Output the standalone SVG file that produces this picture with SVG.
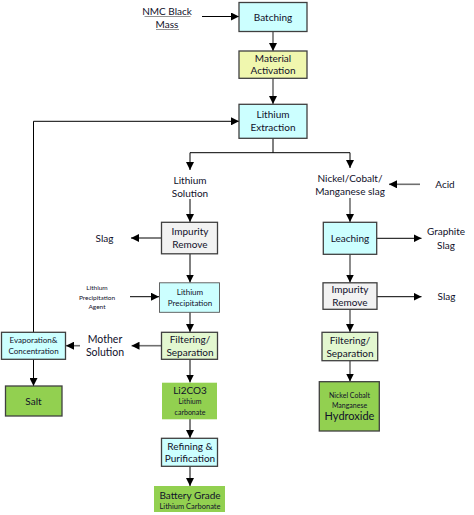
<svg xmlns="http://www.w3.org/2000/svg" width="474" height="515" viewBox="0 0 474 515">
<defs>
<marker id="ah" markerUnits="userSpaceOnUse" markerWidth="8" markerHeight="8" viewBox="0 0 8 8" refX="8" refY="4" orient="auto">
<path d="M0,0 L8,4 L0,8 Z" fill="#000"/>
</marker>
</defs>
<style>
text{font-family:Lato,"Liberation Sans",sans-serif;font-size:10px;fill:#10102a;text-anchor:middle}
.b{stroke:#3f3f3f;stroke-width:1.3}
.cy{fill:#ccffff}.ye{fill:#f0f7ae}.gr{fill:#f2f2f2}.lg{fill:#e3f7d0}.g{fill:#92d050}
.k{fill:none;stroke:#000;stroke-width:1}
.m{fill:none;stroke:#6f6f6f;stroke-width:1.6}
text.s{font-size:8px}text.xs{font-size:6.5px}text.t7{font-size:7px}text.t75{font-size:7.5px}text.t105{font-size:10.5px}text.t11{font-size:11px}
</style>
<rect width="474" height="515" fill="#fff"/>
<g id="connectors">
<line class="k" x1="202" y1="16.5" x2="239" y2="16.5" marker-end="url(#ah)"/>
<line class="m" x1="273" y1="31" x2="273" y2="51" marker-end="url(#ah)"/>
<line class="m" x1="273" y1="78" x2="273" y2="104" marker-end="url(#ah)"/>
<path class="k" d="M273,138 V152.7 H190 V170" stroke-width="1.2" marker-end="url(#ah)"/>
<path class="k" d="M273,152.7 H350 V168" stroke-width="1.2" marker-end="url(#ah)"/>
<line class="k" x1="190" y1="199" x2="190" y2="222" marker-end="url(#ah)"/>
<line class="k" x1="161" y1="238" x2="131" y2="238" marker-end="url(#ah)"/>
<line class="k" x1="190" y1="254" x2="190" y2="282.5" marker-end="url(#ah)"/>
<line class="k" x1="130" y1="296.7" x2="159" y2="296.7" marker-end="url(#ah)"/>
<line class="k" x1="190" y1="312" x2="190" y2="332" marker-end="url(#ah)"/>
<line class="m" x1="161" y1="345.7" x2="131.5" y2="345.7" marker-end="url(#ah)"/>
<line class="m" x1="80" y1="345.7" x2="66" y2="345.7" marker-end="url(#ah)"/>
<line class="k" x1="33.5" y1="359" x2="33.5" y2="386" marker-end="url(#ah)"/>
<path class="k" d="M33.5,332 V121.3 H239" marker-end="url(#ah)"/>
<line class="k" x1="190" y1="359" x2="190" y2="382.5" marker-end="url(#ah)"/>
<line class="k" x1="190" y1="419" x2="190" y2="438" marker-end="url(#ah)"/>
<line class="k" x1="190" y1="466" x2="190" y2="486" marker-end="url(#ah)"/>
<line class="m" x1="350" y1="198" x2="350" y2="222" marker-end="url(#ah)"/>
<line class="m" x1="420" y1="184.3" x2="389" y2="184.3" marker-end="url(#ah)"/>
<line class="k" x1="377" y1="238.3" x2="421.5" y2="238.3" marker-end="url(#ah)"/>
<line class="m" x1="350" y1="254" x2="350" y2="282.5" marker-end="url(#ah)"/>
<line class="k" x1="377" y1="296.7" x2="421.5" y2="296.7" marker-end="url(#ah)"/>
<line class="m" x1="350" y1="309" x2="350" y2="332" marker-end="url(#ah)"/>
<line class="m" x1="350" y1="360.5" x2="350" y2="381.5" marker-end="url(#ah)"/>
</g>
<g id="nmc">
<text x="167" y="14.5">NMC Black</text>
<text x="167" y="27.5">Mass</text>
<line x1="144.5" y1="16.5" x2="190.5" y2="16.5" stroke="#777" stroke-width="0.8"/>
<line x1="156" y1="29.5" x2="179" y2="29.5" stroke="#777" stroke-width="0.8"/>
</g>
<g id="batching"><rect class="b cy" x="239" y="2.5" width="68" height="29"/><text x="273" y="20.5">Batching</text></g>
<g id="activation"><rect class="b ye" x="239" y="51" width="68" height="27.3"/><text x="273" y="61.5">Material</text><text x="273" y="74">Activation</text></g>
<g id="extraction"><rect class="b cy" x="239" y="104.3" width="68" height="34"/><text x="273" y="118">Lithium</text><text x="273" y="131">Extraction</text></g>
<g id="lisolution"><text x="190" y="183.5">Lithium</text><text x="190" y="196.5">Solution</text></g>
<g id="impurity1"><rect class="b gr" x="161.5" y="222.3" width="56" height="31.5"/><text x="190" y="235">Impurity</text><text x="190" y="248">Remove</text></g>
<g id="slag1"><text x="104.5" y="241.5">Slag</text></g>
<g id="agent"><text class="xs" x="97" y="289.5">Lithium</text><text class="xs" x="97" y="299.5">Precipitation</text><text class="xs" x="97" y="309">Agent</text></g>
<g id="liprecip"><rect x="159.5" y="282.8" width="60" height="29.5" class="cy" stroke="#555" stroke-width="0.9"/><text class="s" x="190" y="294.5">Lithium</text><text class="s" x="190" y="305.5">Precipitation</text></g>
<g id="filter1"><rect class="b lg" x="161.5" y="332.3" width="56" height="27"/><text x="190" y="343">Filtering/</text><text x="190" y="356">Separation</text></g>
<g id="mother"><text class="t105" x="105" y="343">Mother</text><text class="t105" x="105" y="356">Solution</text></g>
<g id="evap"><rect class="b cy" x="1.5" y="332.3" width="64" height="27"/><text class="s" x="33.5" y="342.5">Evaporation&amp;</text><text class="s" x="33.5" y="354">Concentration</text></g>
<g id="salt"><rect class="b g" x="5.5" y="386" width="56.5" height="30"/><text x="33.5" y="404.5">Salt</text></g>
<g id="li2co3"><rect class="g" x="162" y="382.7" width="55" height="36.6"/><text x="190" y="393.5">Li2CO3</text><text class="t7" x="190" y="403.5">Lithium</text><text class="t7" x="190" y="414.5">carbonate</text></g>
<g id="refining"><rect class="b cy" x="161.5" y="438.3" width="56" height="28"/><text x="190" y="449.5">Refining &amp;</text><text x="190" y="462">Purification</text></g>
<g id="battery"><rect class="g" x="154" y="486" width="71" height="26"/><text x="190" y="498.5">Battery Grade</text><text class="t75" x="190" y="508.5">Lithium Carbonate</text></g>
<g id="ncmslag"><text x="350" y="181.5">Nickel/Cobalt/</text><text x="350" y="195">Manganese slag</text></g>
<g id="acid"><text x="445" y="187.5">Acid</text></g>
<g id="leaching"><rect class="b cy" x="323.3" y="222.3" width="53.4" height="32"/><text x="350" y="241.5">Leaching</text></g>
<g id="graphite"><text x="446" y="235">Graphite</text><text x="446" y="248.5">Slag</text></g>
<g id="impurity2"><rect class="b gr" x="323" y="282.8" width="54" height="26.5"/><text x="350" y="293">Impurity</text><text x="350" y="306">Remove</text></g>
<g id="slag2"><text x="446.5" y="300">Slag</text></g>
<g id="filter2"><rect class="b lg" x="322" y="332.3" width="55.7" height="28.4"/><text x="350" y="343.5">Filtering/</text><text x="350" y="356.5">Separation</text></g>
<g id="ncm"><rect class="b g" x="319.3" y="381.7" width="60" height="49.3"/><text class="t7" x="349.5" y="398">Nickel Cobalt</text><text class="t7" x="349.5" y="407.5">Manganese</text><text class="t11" x="349.5" y="420">Hydroxide</text></g>
</svg>
